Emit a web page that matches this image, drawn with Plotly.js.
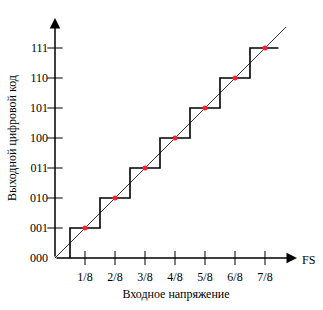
<!DOCTYPE html>
<html><head><meta charset="utf-8">
<script src="https://cdn.plot.ly/plotly-3.0.1.min.js"></script>
<style>html,body{margin:0;padding:0;background:#fff}</style>
</head><body>
<div id="chart" style="width:323px;height:310px"></div>
<script>
// Data
const codes = ["000","001","010","011","100","101","110","111"];
const codeValues = [0,1,2,3,4,5,6,7];
const inputTicks = [1/8,2/8,3/8,4/8,5/8,6/8,7/8];
const inputTickLabels = ["1/8","2/8","3/8","4/8","5/8","6/8","7/8"];
const thresholds = [0.5/8,1.5/8,2.5/8,3.5/8,4.5/8,5.5/8,6.5/8];
const stairEnd = 7.45/8;
const idealX = [0, 7.7/8];
const idealY = [0, 7.7];
const xMax = 8.067/8;
const yMax = 8.0;

// staircase points (hv)
const sx = [thresholds[0]].concat(thresholds, [stairEnd]);
const sy = [0].concat(codeValues.slice(1), [7]);

const font = "'Liberation Serif', 'Times New Roman', serif";
const traces = [
  {x: idealX, y: idealY, mode:'lines', line:{color:'#000', width:0.8}, hoverinfo:'skip'},
  {x: sx, y: sy, mode:'lines', line:{color:'#000', width:1.6, shape:'hv'}, hoverinfo:'skip'},
  {x: inputTicks, y: inputTicks.map(()=>0), mode:'markers', cliponaxis:false,
   marker:{symbol:'line-ns-open', size:10, color:'#000', line:{width:1, color:'#000'}}, hoverinfo:'skip'},
  {x: codeValues.slice(1).map(()=>0), y: codeValues.slice(1), mode:'markers', cliponaxis:false,
   marker:{symbol:'line-ew-open', size:11, color:'#000', line:{width:1, color:'#000'}}, hoverinfo:'skip'},
  {x: inputTicks, y: codeValues.slice(1), mode:'markers',
   marker:{color:'#ff1f2d', size:5}, hoverinfo:'skip'}
];

const layout = {
  width:323, height:310,
  margin:{l:55, r:26, t:18, b:52, pad:0},
  paper_bgcolor:'#fff', plot_bgcolor:'#fff',
  showlegend:false,
  xaxis:{range:[0,xMax], showgrid:false, zeroline:false, showline:false,
    tickvals: inputTicks, ticktext: inputTickLabels, ticks:'',
    ticklabelstandoff: 10,
    tickfont:{family:font, size:12, color:'#000'},
    title:{text:'Входное напряжение', font:{family:font, size:12, color:'#000'}, standoff:6},
    fixedrange:true},
  yaxis:{range:[0,yMax], showgrid:false, zeroline:false, showline:false,
    tickvals: codeValues, ticktext: codes, ticks:'',
    ticklabelstandoff: 6,
    tickfont:{family:font, size:12, color:'#000'},
    title:{text:'Выходной цифровой код', font:{family:font, size:12, color:'#000'}, standoff:10},
    fixedrange:true},
  annotations:[
    {x:xMax, y:0, ax:0, ay:0, xref:'x', yref:'y', axref:'x', ayref:'y', text:'',
     showarrow:true, arrowhead:2, arrowsize:1.4, arrowwidth:1.5, arrowcolor:'#000'},
    {x:0, y:yMax, ax:0, ay:0, xref:'x', yref:'y', axref:'x', ayref:'y', text:'',
     showarrow:true, arrowhead:2, arrowsize:1.4, arrowwidth:1.5, arrowcolor:'#000'},
    {x:xMax, y:0, xref:'x', yref:'y', text:'FS', showarrow:false, xanchor:'left', yanchor:'middle',
     xshift:3, yshift:-2, font:{family:font, size:12, color:'#000'}}
  ]
};
Plotly.newPlot('chart', traces, layout, {displayModeBar:false, staticPlot:true});
</script>
</body></html>
